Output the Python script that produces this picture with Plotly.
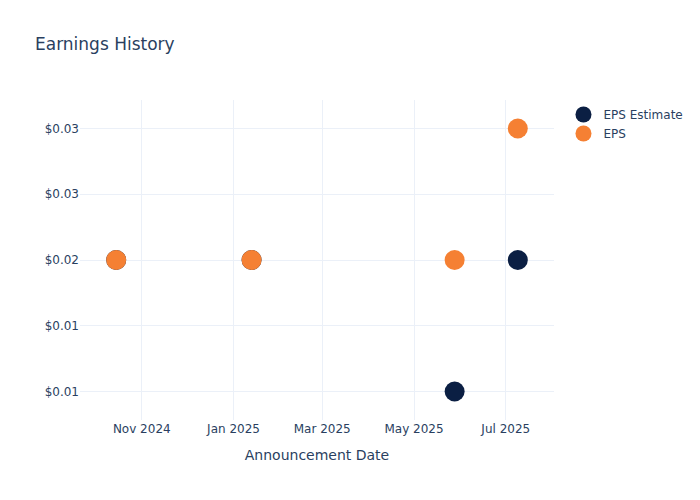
import plotly.graph_objects as go

dates = ["2024-10-15", "2025-01-13", "2025-05-28", "2025-07-09"]
eps_estimate = [0.02, 0.02, 0.01, 0.02]
eps_actual = [0.02, 0.02, 0.02, 0.03]

fig = go.Figure()
fig.add_trace(go.Scatter(
    x=dates, y=eps_estimate, mode="markers", name="EPS Estimate",
    marker=dict(size=20, color="#0b1f43"),
))
fig.add_trace(go.Scatter(
    x=dates, y=eps_actual, mode="markers", name="EPS",
    marker=dict(size=20, color="#f58033"),
))
fig.update_layout(
    template="plotly_white",
    title="Earnings History",
    width=700, height=500,
    font=dict(family="DejaVu Sans"),
    xaxis=dict(title="Announcement Date"),
    yaxis=dict(tickprefix="$", tickformat=".2f"),
)
fig.write_html("out.html", config={"displayModeBar": False},
               post_script="document.body.style.margin='0';")
